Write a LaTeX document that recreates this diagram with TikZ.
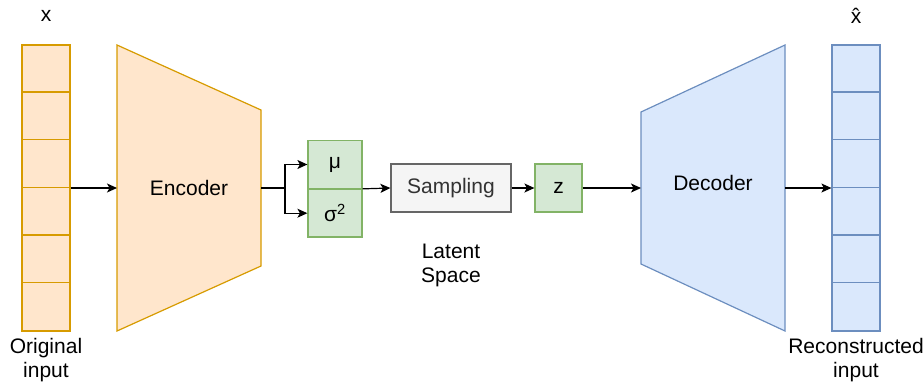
\documentclass[tikz,border=0pt]{standalone}
\usepackage{fontspec}
\setmainfont{Liberation Sans}
\usetikzlibrary{arrows.meta}
\definecolor{encfill}{HTML}{FFE6CC}
\definecolor{encline}{HTML}{D79B00}
\definecolor{decfill}{HTML}{DAE8FC}
\definecolor{decline}{HTML}{6C8EBF}
\definecolor{latfill}{HTML}{D5E8D4}
\definecolor{latline}{HTML}{82B366}
\definecolor{smpfill}{HTML}{F5F5F5}
\definecolor{smpline}{HTML}{666666}
\definecolor{smptext}{HTML}{333333}
\tikzset{
  txt/.style={font=\fontsize{21}{24}\selectfont, align=center, inner sep=0pt},
  conn/.style={line width=1.2pt, -{Stealth[length=10pt,width=9pt,inset=2.5pt]}},
  plain/.style={line width=1.2pt},
  incol/.style={draw=encline, fill=encfill, line width=1.2pt, minimum width=48pt, minimum height=286pt, inner sep=0pt},
  outcol/.style={draw=decline, fill=decfill, line width=1.2pt, minimum width=48pt, minimum height=286pt, inner sep=0pt},
  latbox/.style={draw=latline, fill=latfill, line width=1.2pt, inner sep=0pt, txt},
  smpbox/.style={draw=smpline, fill=smpfill, line width=1.2pt, inner sep=0pt, txt, text=smptext},
}
\begin{document}
\begin{tikzpicture}[x=1pt,y=-1pt]
\useasboundingbox (0,0) rectangle (923,388);

% input column
\node[incol] (xin) at (46,188) {};
\foreach \k in {1,...,5}
  \draw[encline, line width=1.2pt] ([yshift=-\k*286pt/6]xin.north west) -- ([yshift=-\k*286pt/6]xin.north east);
\node[txt] (xlab) at (46,16) {x};
\node[txt] (xcap) at (46,360) {Original\\input};

% encoder
\draw[encline, fill=encfill, line width=1.2pt] (117,45) -- (261,110) -- (261,266) -- (117,331) -- cycle;
\coordinate (encin) at (117,188);
\coordinate (encout) at (261,188);
\node[txt] (enc) at (189,188) {Encoder};

% mean and variance
\node[latbox, minimum width=54pt, minimum height=47.5pt] (mu) at (335,164.5) {μ};
\node[latbox, minimum width=54pt, minimum height=47.5pt, anchor=north] (sig) at (mu.south) {σ\textsuperscript{2}};
\coordinate (split) at (285,188);
\coordinate (latout) at (mu.south east);

% sampling and z
\node[smpbox, minimum width=120pt, minimum height=48pt] (smp) at (451,188) {Sampling};
\node[latbox, minimum width=47pt, minimum height=48pt] (z) at (558.5,188) {z};
\node[txt] (lat) at (451,265) {Latent\\Space};

% decoder
\draw[decline, fill=decfill, line width=1.2pt] (641,112) -- (785,45) -- (785,331) -- (641,264) -- cycle;
\coordinate (decin) at (641,188);
\coordinate (decout) at (785,188);
\node[txt] (dec) at (713,183) {Decoder};

% output column
\node[outcol] (xout) at (856,188) {};
\foreach \k in {1,...,5}
  \draw[decline, line width=1.2pt] ([yshift=-\k*286pt/6]xout.north west) -- ([yshift=-\k*286pt/6]xout.north east);
\node[txt] (xhlab) at (856,16) {x̂};
\node[txt] (xhcap) at (856,360) {Reconstructed\\input};

% connectors
\draw[conn] (xin.east) -- (encin);
\draw[plain] (encout) -- (split);
\draw[conn] (split) |- (mu.west);
\draw[conn] (split) |- (sig.west);
\draw[conn] (latout) -- (smp.west);
\draw[conn] (smp.east) -- (z.west);
\draw[conn] (z.east) -- (decin);
\draw[conn] (decout) -- (xout.west);
\end{tikzpicture}
\end{document}
